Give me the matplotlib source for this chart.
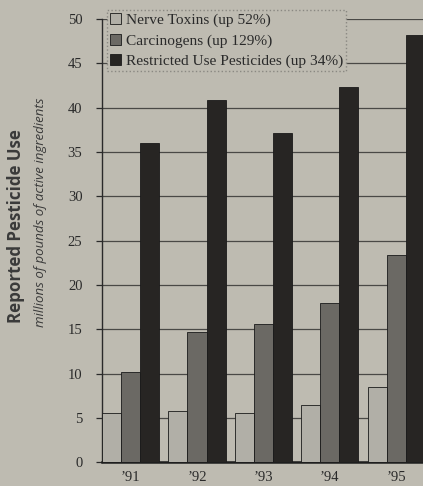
import numpy as np
import matplotlib
matplotlib.use('Agg')
import matplotlib.pyplot as plt

# Reported pesticide use, millions of pounds of active ingredients
years = ["\u201991", "\u201992", "\u201993", "\u201994", "\u201995"]
nerve_toxins = [5.6, 5.8, 5.6, 6.5, 8.5]
carcinogens = [10.2, 14.7, 15.6, 18.0, 23.4]
restricted_use = [36.0, 40.9, 37.1, 42.3, 48.2]

series_labels = ["Nerve Toxins (up 52%)",
                 "Carcinogens (up 129%)",
                 "Restricted Use Pesticides (up 34%)"]
y_ticks = [0, 5, 10, 15, 20, 25, 30, 35, 40, 45, 50]

# Colours
bg = '#bebbb1'
bar_colors = ['#b1afa7', '#6b6964', '#272523']
grid_color = '#4a4946'

fig = plt.figure(figsize=(4.23, 4.86), dpi=100)
fig.patch.set_facecolor(bg)

# axes run a little past the right edge so the last bar is clipped
ax = fig.add_axes([0.241, 0.049, 0.79, 0.912])
ax.set_facecolor(bg)

x = np.arange(len(years))
w = 0.287
for i, vals in enumerate([nerve_toxins, carcinogens, restricted_use]):
    ax.bar(x + (i - 1) * w, vals, width=w, color=bar_colors[i],
           edgecolor='#1a1a1a', linewidth=0.6, label=series_labels[i], zorder=3)

ax.set_xlim(-1.5 * w, 4.6)
ax.set_ylim(0, 50)

# Horizontal grid behind bars
ax.set_yticks(y_ticks)
ax.yaxis.grid(True, color=grid_color, linewidth=0.9, zorder=0)
ax.set_axisbelow(True)

serif = 'Liberation Serif'
ax.set_yticklabels([str(t) for t in y_ticks], fontfamily=serif, fontsize=10.5, color='#2a2a2a')
ax.tick_params(axis='y', direction='out', length=4, width=0.9, color='#2a2a2a', pad=10)
ax.set_xticks(x)
ax.set_xticklabels(years, fontfamily=serif, fontsize=10.5, color='#2a2a2a')
ax.tick_params(axis='x', length=0, pad=6)

for s in ['top', 'right']:
    ax.spines[s].set_visible(False)
ax.spines['left'].set_color('#2a2a2a')
ax.spines['left'].set_linewidth(1.0)
ax.spines['bottom'].set_color('#1e1e1e')
ax.spines['bottom'].set_linewidth(1.8)

# Axis titles
fig.text(0.038, 0.535, 'Reported Pesticide Use', rotation=90, ha='center', va='center',
         fontfamily='Open Sans', fontweight='bold', fontsize=12.2, color='#3a3a3a')
fig.text(0.095, 0.564, 'millions of pounds of active ingredients', rotation=90,
         ha='center', va='center', fontfamily='Open Sans', fontstyle='italic',
         fontsize=9.5, color='#3a3a3a')

# Legend
leg = fig.legend(loc='upper left', bbox_to_anchor=(0.253, 0.979), borderaxespad=0,
                 prop={'family': serif, 'size': 11.1}, frameon=True, fancybox=False,
                 handlelength=0.7, handleheight=0.7, handletextpad=0.3,
                 labelspacing=0.42, borderpad=0.2)
frame = leg.get_frame()
frame.set_facecolor(bg)
frame.set_alpha(1)
frame.set_edgecolor('#8a8882')
frame.set_linestyle(':')
frame.set_linewidth(1.0)
for t in leg.get_texts():
    t.set_color('#2a2a2a')

fig.savefig('out.png', dpi=100, facecolor=bg)
